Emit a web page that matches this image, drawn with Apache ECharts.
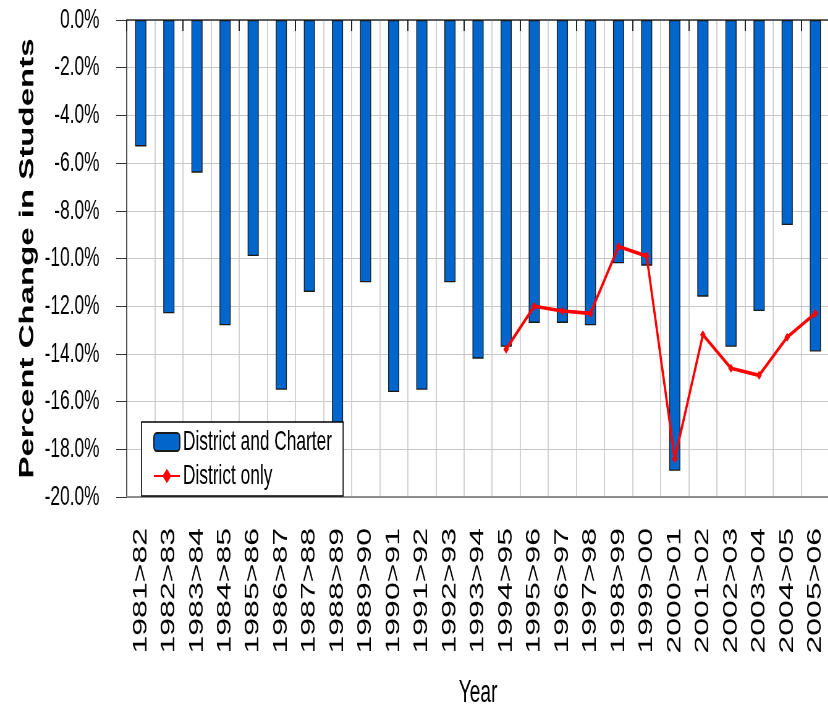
<!DOCTYPE html>
<html>
<head>
<meta charset="utf-8">
<title>Percent Change in Students</title>
<script src="https://cdn.jsdelivr.net/npm/echarts@6.0.0/dist/echarts.min.js"></script>
<style>
	html, body { margin: 0; padding: 0; overflow: hidden; background: #fff; }
	/* the source picture is squeezed sideways, so the chart is drawn wide and scaled down */
	#chart { width: 1340px; height: 705px; transform: scaleX(0.618); transform-origin: 0 0; }
</style>
</head>
<body>
<div id="chart"></div>
<script>
var years = [ '1981>82', '1982>83', '1983>84', '1984>85', '1985>86', '1986>87',
		'1987>88', '1988>89', '1989>90', '1990>91', '1991>92', '1992>93',
		'1993>94', '1994>95', '1995>96', '1996>97', '1997>98', '1998>99',
		'1999>00', '2000>01', '2001>02', '2002>03', '2003>04', '2004>05',
		'2005>06' ];

// percent change, district and charter schools together
var districtAndCharter = [ -5.3, -12.3, -6.4, -12.8, -9.9, -15.5, -11.4, -17.6,
		-11.0, -15.6, -15.5, -11.0, -14.2, -13.7, -12.7, -12.7, -12.8, -10.2,
		-10.3, -18.9, -11.6, -13.7, -12.2, -8.6, -13.9 ];

// percent change, district schools only (from 1994>95)
var districtOnly = [ null, null, null, null, null, null, null, null, null,
		null, null, null, null, -13.8, -12.0, -12.2, -12.3, -9.5, -9.9, -18.4,
		-13.2, -14.6, -14.9, -13.3, -12.3 ];

var yMin = -20;
var yMax = 0;
var yStep = 2;

var font = 'Liberation Sans, Arial, sans-serif';

var myChart = echarts.init(document.getElementById('chart'));

var option = {
	animation : false,
	backgroundColor : '#fff',
	grid : {
		left : 205,
		right : -2,
		top : 20,
		bottom : 208,
		outerBoundsMode : 'none'
	},
	legend : {
		orient : 'vertical',
		left : 229,
		top : 422,
		padding : [ 6, 18, 6, 19 ],
		itemWidth : 42,
		itemHeight : 18,
		itemGap : 6,
		backgroundColor : '#fff',
		borderColor : '#000',
		borderWidth : 1.6,
		borderRadius : 0,
		textStyle : {
			fontFamily : font,
			fontSize : 28,
			color : '#000'
		},
		data : [ 'District and Charter', 'District only' ]
	},
	xAxis : [ {
		// bottom axis carries the year labels
		type : 'category',
		data : years,
		position : 'bottom',
		boundaryGap : true,
		axisLine : {
			onZero : false,
			lineStyle : { color : '#8c8c8c', width : 2 }
		},
		axisTick : { show : false },
		axisLabel : {
			rotate : 90,
			margin : 31,
			fontFamily : font,
			fontSize : 32,
			color : '#000'
		},
		splitLine : {
			show : true,
			lineStyle : { color : '#c8c8c8', width : 1.6 }
		},
		name : 'Year',
		nameLocation : 'middle',
		nameGap : 181,
		nameTextStyle : {
			fontFamily : font,
			fontSize : 31,
			color : '#000'
		}
	}, {
		// top axis: the zero line with small ticks between years
		type : 'category',
		data : years,
		position : 'top',
		boundaryGap : true,
		axisLine : {
			onZero : false,
			lineStyle : { color : '#333', width : 1.5 }
		},
		axisTick : {
			show : true,
			inside : true,
			length : 11,
			lineStyle : { color : '#222', width : 2 }
		},
		axisLabel : { show : false },
		splitLine : { show : false }
	} ],
	yAxis : {
		type : 'value',
		min : yMin,
		max : yMax,
		interval : yStep,
		axisLine : {
			show : true,
			lineStyle : { color : '#333', width : 1.6 }
		},
		axisTick : {
			show : true,
			length : 17,
			lineStyle : { color : '#333', width : 1 }
		},
		axisLabel : {
			margin : 44,
			fontFamily : font,
			fontSize : 28,
			color : '#000',
			formatter : function(v) {
				return v.toFixed(1) + '%';
			}
		},
		splitLine : {
			show : true,
			lineStyle : { color : '#c8c8c8', width : 1 }
		},
		name : 'Percent Change in Students',
		nameLocation : 'middle',
		nameGap : 132,
		nameTextStyle : {
			fontFamily : font,
			fontSize : 33,
			fontWeight : 'bold',
			color : '#000'
		}
	},
	series : [ {
		name : 'District and Charter',
		type : 'bar',
		xAxisIndex : 0,
		barWidth : 18,
		itemStyle : {
			color : '#0066cc',
			borderColor : '#1a1a1a',
			borderWidth : 1.3
		},
		data : districtAndCharter
	}, {
		name : 'District only',
		type : 'line',
		xAxisIndex : 0,
		symbol : 'diamond',
		symbolSize : 9,
		showAllSymbol : true,
		connectNulls : false,
		lineStyle : { color : '#ff0000', width : 3.6 },
		itemStyle : { color : '#ff0000' },
		z : 3,
		data : districtOnly
	} ]
};

myChart.setOption(option);
</script>
</body>
</html>
